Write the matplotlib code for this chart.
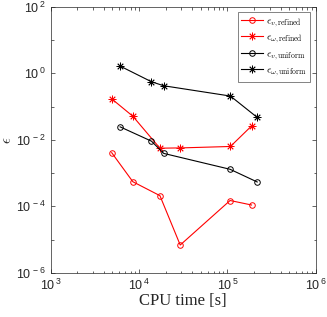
import matplotlib
matplotlib.use("Agg")
import matplotlib.pyplot as plt
import numpy as np
from matplotlib.ticker import LogLocator, NullFormatter, FuncFormatter

plt.rcParams['mathtext.fontset'] = 'cm'

t_v_ref = [4900, 8500, 17200, 29200, 1.07e5, 1.87e5]
e_v_ref = [4.1e-3, 5.5e-4, 2.1e-4, 6.9e-6, 1.5e-4, 1.1e-4]
t_w_ref = [4900, 8500, 17200, 29200, 1.08e5, 1.87e5]
e_w_ref = [0.17, 0.051, 0.0056, 0.0057, 0.0063, 0.026]
t_v_uni = [6100, 13800, 19000, 1.07e5, 2.17e5]
e_v_uni = [0.0245, 0.0091, 0.0039, 0.0013, 5.4e-4]
t_w_uni = [6100, 13800, 19000, 1.08e5, 2.17e5]
e_w_uni = [1.64, 0.555, 0.42, 0.206, 0.047]
labels = [r'$\epsilon_{v,\mathrm{refined}}$', r'$\epsilon_{\omega,\mathrm{refined}}$',
          r'$\epsilon_{v,\mathrm{uniform}}$', r'$\epsilon_{\omega,\mathrm{uniform}}$']

fig = plt.figure(figsize=(3.27, 3.17), dpi=100)
ax = fig.add_axes([0.155, 0.139, 0.811, 0.840])
red = '#ff0000'
ast = (8, 2, 0)
ax.plot(t_v_ref, e_v_ref, '-', marker='o', color=red, lw=0.8, ms=4, mfc='none', mew=0.7, label=labels[0])
ax.plot(t_w_ref, e_w_ref, '-', marker=ast, color=red, lw=0.8, ms=5.5, mew=0.6, label=labels[1])
ax.plot(t_v_uni, e_v_uni, '-', marker='o', color='k', lw=0.8, ms=4, mfc='none', mew=0.7, label=labels[2])
ax.plot(t_w_uni, e_w_uni, '-', marker=ast, color='k', lw=0.8, ms=5.5, mew=0.6, label=labels[3])
ax.set_xscale('log')
ax.set_yscale('log')
ax.set_xlim(1e3, 1e6)
ax.set_ylim(1e-6, 1e2)
ax.set_xticks([1e3, 1e4, 1e5, 1e6])
ax.set_yticks([1e-6, 1e-4, 1e-2, 1e0, 1e2])
fmt = FuncFormatter(lambda v, p: r'$\mathregular{10^{\,%d}}$' % int(round(np.log10(v))))
ax.xaxis.set_major_formatter(fmt)
ax.yaxis.set_major_formatter(fmt)
ax.xaxis.set_minor_locator(LogLocator(base=10, subs=range(2, 10), numticks=20))
ax.yaxis.set_minor_locator(LogLocator(base=10, subs=[], numticks=20))
ax.xaxis.set_minor_formatter(NullFormatter())
ax.yaxis.set_minor_formatter(NullFormatter())
ax.tick_params(which='major', direction='in', top=True, right=True, length=3, width=0.5,
               color='#262626', labelcolor='#262626', labelsize=9)
ax.tick_params(which='minor', direction='in', top=True, right=True, length=1.8, width=0.5,
               color='#262626')
for lab in ax.get_xticklabels() + ax.get_yticklabels():
    lab.set_family('Liberation Sans')
for s in ax.spines.values():
    s.set_linewidth(0.5)
    s.set_color('#262626')
ax.set_xlabel('CPU time [s]', family='Liberation Serif', fontsize=12, color='#262626', labelpad=0)
ax.set_ylabel(r'$\epsilon$', fontsize=10.5, color='#262626')
ax.yaxis.set_label_coords(-0.137, 0.5)
leg = ax.legend(loc='upper right', fontsize=7.8, frameon=True, fancybox=False,
                edgecolor='#262626', borderaxespad=0.5, handlelength=2.0,
                borderpad=0.35, labelspacing=0.3, handletextpad=0.3)
leg.get_frame().set_linewidth(0.5)
fig.savefig('out.png', dpi=100)
